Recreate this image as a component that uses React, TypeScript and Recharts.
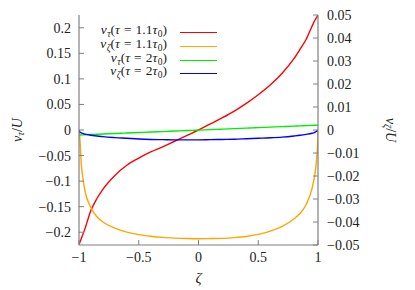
import React from "react";
import { Label, Legend, Line, LineChart, XAxis, YAxis } from "recharts";

// values
const zeta = [
  -1, -0.995, -0.99, -0.98, -0.97, -0.95, -0.9, -0.85, -0.8, -0.7, -0.6, -0.5, -0.4, -0.3, -0.2, -0.1, 0,
  0.1, 0.2, 0.3, 0.4, 0.5, 0.6, 0.7, 0.8, 0.85, 0.9, 0.95, 0.97, 0.98, 0.99, 0.995, 1,
];
// v_tau / U, tau = 1.1 tau0 (left axis)
const vTau11 = [
  -0.225, -0.221, -0.218, -0.212, -0.206, -0.193, -0.157, -0.134, -0.116, -0.089, -0.069, -0.055, -0.043,
  -0.033, -0.022, -0.011, 0.0, 0.012, 0.024, 0.037, 0.052, 0.069, 0.088, 0.111, 0.14, 0.158, 0.177, 0.203,
  0.213, 0.217, 0.221, 0.223, 0.225,
];
// v_zeta / U, tau = 1.1 tau0 (right axis)
const vZeta11 = [
  0, -0.002, -0.006, -0.0155, -0.02, -0.0265, -0.0338, -0.0377, -0.04, -0.0427, -0.0444, -0.0455, -0.0462,
  -0.0467, -0.047, -0.0472, -0.0473, -0.0472, -0.0471, -0.0468, -0.0463, -0.0454, -0.044, -0.0419, -0.0386,
  -0.0362, -0.0325, -0.0255, -0.0205, -0.017, -0.0118, -0.008, 0,
];
// v_tau / U, tau = 2 tau0 (left axis)
const vTau2 = [
  -0.0098, -0.0097, -0.0097, -0.0096, -0.0095, -0.0093, -0.0088, -0.0084, -0.0079, -0.0069, -0.006, -0.005,
  -0.004, -0.0031, -0.0021, -0.0011, -0.0002, 0.0008, 0.0017, 0.0027, 0.0037, 0.0046, 0.0056, 0.0066, 0.0075,
  0.008, 0.0085, 0.009, 0.0092, 0.0093, 0.0094, 0.0094, 0.0095,
];
// v_zeta / U, tau = 2 tau0 (right axis)
const vZeta2 = [
  0, -0.0007, -0.001, -0.0013, -0.0015, -0.0018, -0.0023, -0.0026, -0.0029, -0.0033, -0.0036, -0.0039,
  -0.0041, -0.0042, -0.0043, -0.0043, -0.0043, -0.0042, -0.0041, -0.004, -0.0038, -0.0036, -0.0034, -0.0031,
  -0.0026, -0.0023, -0.0019, -0.0014, -0.0011, -0.0008, -0.0005, -0.0003, 0,
];

const xTicks = [-1, -0.5, 0, 0.5, 1];
const leftTicks = [-0.2, -0.15, -0.1, -0.05, 0, 0.05, 0.1, 0.15, 0.2];
const rightTicks = [-0.05, -0.04, -0.03, -0.02, -0.01, 0, 0.01, 0.02, 0.03, 0.04, 0.05];

const data = zeta.map((z, i) => ({
  z,
  vTau11: vTau11[i],
  vZeta11: vZeta11[i],
  vTau2: vTau2[i],
  vZeta2: vZeta2[i],
}));

const FONT = '"Liberation Serif", "DejaVu Serif", serif';
const TEXT = "#222";
const BORDER = "#808080";

const fmt = (v: number) => {
  const s = parseFloat(Math.abs(v).toFixed(3)).toString();
  return v < -1e-9 ? "\u2212" + s : s;
};

const Sub = ({ children }: { children: React.ReactNode }) => (
  <span style={{ fontSize: 9.5, position: "relative", top: 3, marginLeft: 0.5 }}>{children}</span>
);
const Eq = () => <span style={{ margin: "0 4px" }}>=</span>;

const series = [
  {
    key: "vTau11",
    axis: "left",
    color: "#ff0000",
    label: (
      <>
        <i>v</i><Sub><i>τ</i></Sub>(<i>τ</i><Eq />1.1<i>τ</i><Sub>0</Sub>)
      </>
    ),
  },
  {
    key: "vZeta11",
    axis: "right",
    color: "#ffa500",
    label: (
      <>
        <i>v</i><Sub><i>ζ</i></Sub>(<i>τ</i><Eq />1.1<i>τ</i><Sub>0</Sub>)
      </>
    ),
  },
  {
    key: "vTau2",
    axis: "left",
    color: "#00ee00",
    label: (
      <>
        <i>v</i><Sub><i>τ</i></Sub>(<i>τ</i><Eq />2<i>τ</i><Sub>0</Sub>)
      </>
    ),
  },
  {
    key: "vZeta2",
    axis: "right",
    color: "#0000ff",
    label: (
      <>
        <i>v</i><Sub><i>ζ</i></Sub>(<i>τ</i><Eq />2<i>τ</i><Sub>0</Sub>)
      </>
    ),
  },
];

function KeyBox() {
  return (
    <div style={{ fontFamily: FONT, fontSize: 13.5, color: TEXT }}>
      {series.map((s) => (
        <div key={s.key} style={{ display: "flex", alignItems: "center", height: 13.67 }}>
          <span
            style={{
              width: 77,
              textAlign: "right",
              whiteSpace: "nowrap",
              lineHeight: "13px",
              position: "relative",
              top: -2,
            }}
          >
            {s.label}
          </span>
          <span style={{ marginLeft: 13, width: 37, height: 0, borderTop: `1.5px solid ${s.color}` }} />
        </div>
      ))}
    </div>
  );
}

function AxisTitle({ viewBox, side }: any) {
  const vb = viewBox || {};
  let cx: number, cy: number, rot: number;
  if (side === "left") {
    cx = vb.x + 16.5;
    cy = vb.y + vb.height / 2;
    rot = -90;
  } else if (side === "right") {
    cx = vb.x + 73;
    cy = vb.y + vb.height / 2;
    rot = 90;
  } else {
    cx = vb.x + vb.width / 2;
    cy = vb.y + 33;
    rot = 0;
  }
  const sub = side === "right" ? "ζ" : "τ";
  return (
    <text
      x={cx}
      y={cy}
      transform={rot ? `rotate(${rot} ${cx} ${cy})` : undefined}
      textAnchor="middle"
      dominantBaseline="central"
      fontFamily={FONT}
      fontSize={14}
      fill={TEXT}
    >
      {side === "bottom" ? (
        <tspan fontStyle="italic" fontSize={15}>ζ</tspan>
      ) : (
        <>
          <tspan fontStyle="italic">v</tspan>
          <tspan fontStyle="italic" fontSize={10} dy={3}>{sub}</tspan>
          <tspan dy={-3}>/</tspan>
          <tspan fontStyle="italic">U</tspan>
        </>
      )}
    </text>
  );
}

const tickStyle = { fontSize: 14, fill: TEXT, fontFamily: FONT };
const axisLine = { stroke: BORDER, strokeWidth: 1.2 };
const tickLine = { stroke: BORDER, strokeWidth: 1 };

export default function App() {
  return (
    <div style={{ position: "absolute", left: 0, top: 0, width: 415, height: 290, background: "#fff" }}>
      <LineChart width={415} height={290} data={data} margin={{ top: 15, right: 0, bottom: 0, left: 0 }}>
        <XAxis
          dataKey="z"
          type="number"
          domain={[-1, 1]}
          ticks={xTicks}
          tickFormatter={fmt}
          height={45}
          tickSize={-5}
          tickMargin={12}
          tick={tickStyle}
          axisLine={axisLine}
          tickLine={tickLine}
          allowDataOverflow
        >
          <Label content={(p: any) => <AxisTitle {...p} side="bottom" />} />
        </XAxis>
        <XAxis
          xAxisId="top"
          orientation="top"
          dataKey="z"
          type="number"
          domain={[-1, 1]}
          ticks={xTicks}
          height={0}
          tickSize={-5}
          tick={false}
          axisLine={axisLine}
          tickLine={tickLine}
        />
        <YAxis
          yAxisId="left"
          orientation="left"
          type="number"
          domain={[-0.225, 0.225]}
          ticks={leftTicks}
          tickFormatter={fmt}
          width={79}
          tickSize={-5}
          tickMargin={13}
          tick={tickStyle}
          axisLine={axisLine}
          tickLine={tickLine}
          allowDataOverflow
        >
          <Label content={(p: any) => <AxisTitle {...p} side="left" />} />
        </YAxis>
        <YAxis
          yAxisId="right"
          orientation="right"
          type="number"
          domain={[-0.05, 0.05]}
          ticks={rightTicks}
          tickFormatter={fmt}
          width={97}
          tickSize={-5}
          tickMargin={14}
          tick={tickStyle}
          axisLine={axisLine}
          tickLine={tickLine}
          allowDataOverflow
        >
          <Label content={(p: any) => <AxisTitle {...p} side="right" />} />
        </YAxis>
        <Legend
          layout="vertical"
          align="center"
          verticalAlign="middle"
          content={() => <KeyBox />}
          wrapperStyle={{ position: "absolute", left: 90, top: 26, width: 140 }}
        />
        {series.map((s) => (
          <Line
            key={s.key}
            yAxisId={s.axis}
            dataKey={s.key}
            type="monotone"
            stroke={s.color}
            strokeWidth={1.4}
            dot={false}
            activeDot={false}
            isAnimationActive={false}
          />
        ))}
      </LineChart>
    </div>
  );
}
